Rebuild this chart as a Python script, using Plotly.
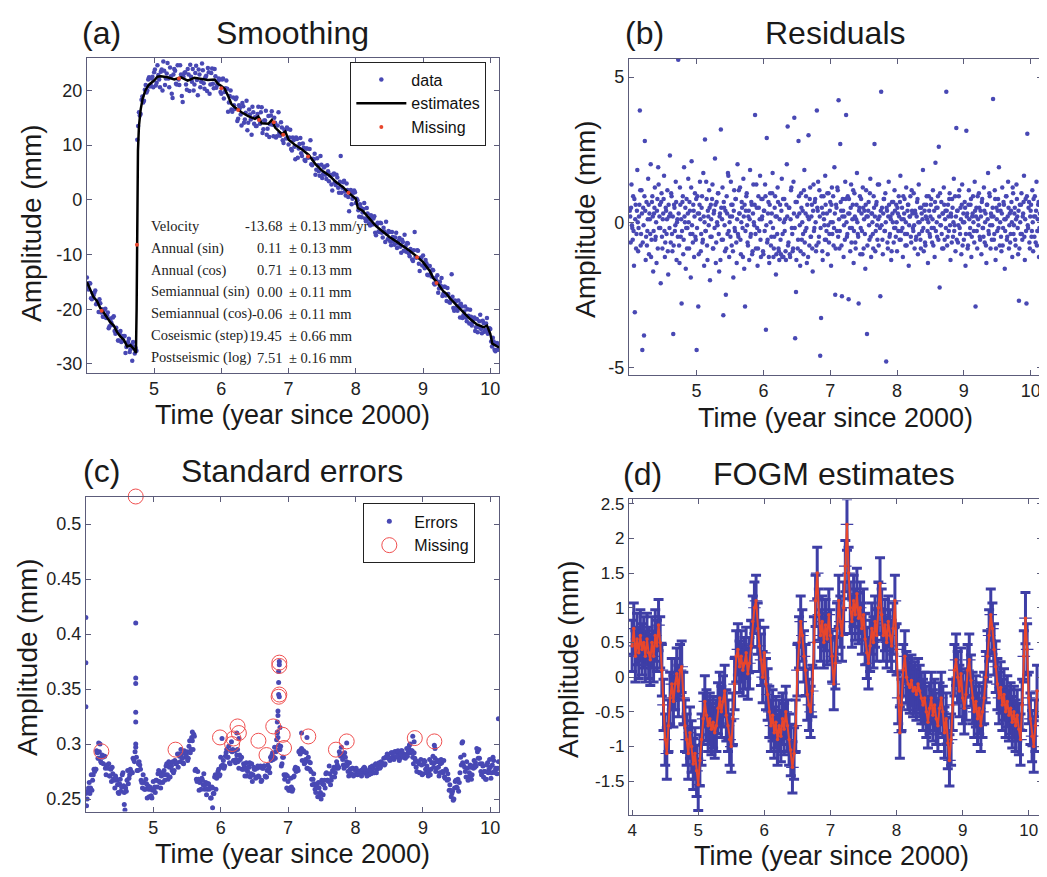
import plotly.graph_objects as go

# The page body keeps the browser's default 8 px margin, so the figure is
# drawn 8 px in from the window's top-left corner; sizes compensate for it.
WIN_W, WIN_H, BODY = 1047, 877, 8
W, H = WIN_W - BODY, WIN_H - BODY
FONT = "Liberation Sans, Arial, sans-serif"
SERIF = "Liberation Serif, Times New Roman, serif"
BLUE = "#4848b4"
BAR = "#3e3ea6"
RED = "#e8462c"
AXC = "#5c5c7a"

# ---------------- (a) Smoothing ----------------
obs_t0, obs_dt = 4.0, 0.025          # first set of epochs
obs_mm = [-14.2, -16.4, -15.3, -18.2, -17.5, -16.6, -18.9, -20.5, -18.9, -20.0,
          -21.4, -19.9, -21.1, -23.5, -21.7, -22.9, -21.3, -24.5, -24.1, -25.7,
          -24.0, -25.8, -25.0, -28.0, -26.5, -25.4, -27.3, -29.4, -26.8, -27.1,
          11.0, 16.0, 15.7, 18.9, 18.1, 21.0, 20.0, 22.4, 21.0, 22.5,
          23.3, 20.9, 24.6, 22.0, 23.4, 20.0, 23.6, 22.2, 25.0, 20.6,
          22.6, 18.6, 23.9, 21.2, 24.6, 21.0, 22.9, 17.9, 23.2, 21.1,
          23.9, 19.9, 22.5, 23.9, 21.1, 24.5, 19.1, 22.9, 21.6, 23.7,
          20.3, 22.7, 24.1, 19.4, 23.2, 21.2, 23.9, 20.5, 21.7, 22.0,
          19.4, 22.2, 19.7, 21.8, 16.1, 19.0, 16.5, 18.7, 16.6, 18.7,
          14.8, 16.8, 13.6, 17.1, 14.7, 18.1, 14.1, 15.6, 11.9, 16.0,
          15.1, 13.5, 17.0, 13.9, 16.9, 12.9, 14.5, 11.9, 15.3, 13.8,
          16.2, 11.6, 14.1, 11.6, 16.0, 11.7, 13.2, 10.4, 12.7, 13.2,
          10.1, 12.8, 9.0, 10.9, 7.4, 11.1, 9.4, 11.3, 8.0, 9.5,
          7.1, 9.4, 7.8, 10.9, 6.3, 7.4, 4.6, 7.6, 5.2, 8.0,
          4.0, 5.9, 4.6, 6.3, 3.4, 4.6, 1.7, 4.8, 2.7, 4.1,
          1.3, 8.0, 2.2, 3.5, 0.8, 1.8, -2.1, 1.8, 0.2, 1.7,
          -0.6, -0.1, -3.1, -1.4, -2.3, -0.6, -3.9, -2.5, -4.3, -2.8,
          -4.5, -3.0, -6.5, -4.2, -5.9, -4.3, -6.9, -5.8, -4.0, -7.2,
          -5.9, -8.3, -6.8, -8.2, -6.0, -8.0, -7.0, -9.7, -7.7, -6.4,
          -9.5, -8.0, -10.3, -9.3, -11.2, -5.9, -10.6, -9.3, -13.0, -10.6,
          -10.2, -12.5, -11.6, -13.8, -12.1, -14.0, -12.9, -15.5, -14.8, -17.0,
          -15.0, -14.3, -17.2, -15.9, -18.5, -17.2, -18.8, -13.6, -19.8, -18.4,
          -19.6, -18.4, -21.5, -19.5, -21.1, -19.5, -22.2, -21.2, -20.1, -23.0,
          -21.8, -24.0, -21.8, -23.3, -21.0, -24.4, -22.5, -23.8, -21.6, -24.0,
          -23.6, -26.8, -25.9, -27.7, -26.2, -27.3]
obs2_t0 = 4.0125                      # interleaved epochs
obs2_mm = [-15.9, -15.2, -18.0, -17.1, -17.0, -19.1, -18.6, -18.2, -20.6, -21.4,
           -20.1, -21.6, -20.6, -23.1, -22.4, -21.5, -24.0, -23.4, -25.7, -24.5,
           -26.0, -24.9, -24.9, -26.9, -26.0, -27.8, -26.5, -26.0, -28.1, -27.6,
           13.5, 15.4, 18.3, 17.8, 20.1, 19.6, 22.0, 20.7, 22.2, 20.6,
           23.8, 21.4, 22.8, 20.6, 23.8, 25.3, 21.0, 23.1, 22.2, 24.2,
           19.4, 22.9, 23.6, 21.1, 22.0, 24.6, 19.0, 22.5, 23.3, 20.1,
           22.9, 24.7, 21.6, 20.0, 23.2, 21.9, 23.8, 20.6, 24.9, 21.3,
           22.4, 19.9, 23.3, 21.1, 24.0, 20.4, 22.6, 21.0, 22.2, 19.7,
           22.0, 18.5, 20.4, 20.3, 17.8, 20.0, 16.1, 17.3, 18.4, 14.4,
           17.3, 15.6, 17.7, 14.1, 15.9, 12.7, 16.5, 14.7, 17.0, 13.9,
           13.5, 15.7, 14.7, 16.0, 12.2, 14.5, 16.3, 13.0, 11.5, 15.4,
           13.7, 15.0, 11.4, 13.6, 12.2, 14.2, 10.9, 12.8, 11.2, 13.0,
           11.4, 9.3, 11.4, 9.7, 11.4, 7.7, 10.2, 8.5, 10.3, 7.3,
           9.4, 7.7, 9.3, 6.5, 7.5, 8.4, 5.5, 6.3, 4.4, 6.4,
           4.7, 6.1, 3.8, 5.2, 4.5, 2.8, 4.6, 3.2, 4.6, 2.2,
           3.3, 1.3, 3.2, 1.5, 3.0, 0.5, 1.4, -0.8, 1.3, 1.4,
           0.2, -1.9, -0.8, -3.2, -1.7, -3.4, -1.5, -3.5, -4.7, -3.4,
           -3.4, -6.0, -4.5, -5.8, -4.2, -6.0, -5.1, -7.7, -6.2, -5.7,
           -7.6, -5.9, -7.6, -6.9, -8.8, -7.5, -8.6, -7.3, -9.3, -8.5,
           -7.9, -9.8, -9.0, -10.9, -9.2, -10.4, -9.2, -11.7, -10.6, -12.0,
           -12.1, -11.0, -13.7, -12.1, -13.5, -12.8, -15.3, -14.3, -13.8, -16.2,
           -15.7, -17.6, -15.9, -17.5, -16.1, -18.7, -18.0, -17.7, -20.3, -18.6,
           -20.3, -19.3, -19.0, -21.6, -20.4, -21.5, -20.0, -22.6, -21.4, -22.4,
           -21.5, -23.3, -24.2, -22.2, -23.6, -22.1, -24.1, -22.6, -24.5, -23.5,
           -25.9, -25.2, -27.4, -26.3, -27.4, -26.4]

est_t = [4.00, 4.05, 4.10, 4.15, 4.20, 4.25, 4.30, 4.35, 4.40, 4.45, 4.50, 4.55, 4.60, 4.65, 4.70,
         4.73, 4.74, 4.745, 4.75, 4.76, 4.775, 4.80, 4.83, 4.87, 4.92,
         5.00, 5.05, 5.10, 5.20, 5.30, 5.40, 5.50, 5.60, 5.70, 5.80, 5.90,
         5.95, 6.00, 6.05, 6.10, 6.15, 6.20,
         6.30, 6.40, 6.50, 6.55, 6.60, 6.70, 6.75, 6.80, 6.90, 6.95, 7.00,
         7.10, 7.20, 7.30, 7.40, 7.50, 7.60, 7.70, 7.80, 7.90, 8.00, 8.03,
         8.10, 8.20, 8.30, 8.40, 8.50, 8.60, 8.70, 8.80, 8.90, 9.00, 9.10,
         9.15, 9.20, 9.30, 9.35, 9.40, 9.50, 9.60, 9.70, 9.80, 9.90,
         9.95, 10.00, 10.03, 10.10, 10.13]
est_mm = [-15.0, -16.5, -17.8, -18.5, -19.8, -20.6, -21.5, -22.4, -23.0, -24.2, -25.0, -25.6, -26.8, -26.6, -27.3,
          -28.0, -20.0, -8.0, 2.0, 9.0, 13.5, 16.5, 18.5, 20.0, 21.0,
          21.8, 22.5, 22.6, 22.4, 22.0, 22.4, 21.8, 22.3, 22.1, 21.9, 22.0,
          21.2, 20.8, 20.3, 19.0, 17.5, 16.9,
          16.0, 15.3, 14.8, 15.2, 14.0, 13.9, 14.6, 13.2, 12.0, 12.5, 11.0,
          10.0, 9.2, 8.2, 6.5, 5.3, 4.5, 3.3, 2.4, 1.2, 0.2, -1.5,
          -2.0, -3.4, -4.8, -5.8, -6.8, -7.6, -8.4, -9.3, -10.3, -11.4, -13.0,
          -14.3, -15.0, -16.7, -17.2, -18.0, -19.3, -20.5, -21.8, -22.8, -23.3,
          -23.0, -24.5, -26.3, -26.8, -27.0]

miss_a_t = [4.22, 4.745, 5.37, 6.00, 6.25, 6.56, 6.78, 6.92, 7.29, 7.89, 8.91, 9.20]
miss_a_mm = [-20.3, -8.2, 22.2, 20.4, 16.4, 14.6, 14.2, 11.9, 7.9, 1.3, -10.5, -15.2]

param_names = ["Velocity", "Annual (sin)", "Annual (cos)", "Semiannual (sin)",
               "Semiannual (cos)", "Coseismic (step)", "Postseismic (log)"]
param_values = ["-13.68", "0.11", "0.71", "0.00", "-0.06", "19.45", "7.51"]
param_sigmas = ["0.13", "0.13", "0.13", "0.11", "0.11", "0.66", "0.16"]
param_units = ["mm/yr", "mm", "mm", "mm", "mm", "mm", "mm"]

# ---------------- (b) Residuals ----------------
res_t0, res_dt = 4.0, 0.0125
resid_mm = [
    0.4, -0.7, 1.3, -0.2, 0.9, -1.5, -3.1, 0.6, -0.4, 1.8, -1.0, 0.2, 3.85, -0.8, 1.1, -4.4, 0.5, -3.9, 2.8, -1.3,
    0.7, -0.3, 1.5, -1.1, 0.1, 2.0, -0.6, 0.9, -1.7, 0.3, 1.2, -0.5, -1.4, 0.8, 1.9, -0.2, 0.6, -2.1, 1.0, -0.9,
    0.3, 1.6, -1.2, 0.5, -0.4, 1.1, -1.8, 0.2, 2.3, -0.7, 0.9, -1.0, -3.85, 0.6, -0.3, 1.4, -1.3, 0.1, 5.6, -0.8,
    1.2, -0.5, -2.8, 0.7, -1.1, 1.9, 0.0, -1.6, 0.8, -0.2, 1.5, -0.9, 0.4, -1.9, 2.1, -0.4, 0.6, -1.2, 1.0, -0.6,
    -4.4, 0.9, -2.9, 0.3, 1.4, -1.0, 0.5, -0.7, 1.7, -1.5, 2.85, -0.3, 0.8, -1.3, 0.2, 1.1, -2.0, 0.6, -0.5, 1.3,
    -0.9, 0.4, 2.2, -1.4, 0.7, -0.1, 1.0, -1.7, 0.3, 3.2, -0.6, 1.2, -3.2, 0.5, -1.0, -2.5, 0.9, -0.4, 1.6, -1.2,
    0.2, 1.4, -0.8, 0.6, -1.9, 1.1, -0.3, 0.8, -1.4, 2.0, -0.5, 0.3, 1.2, -1.1, 0.7, -0.2, 1.5, -1.6, -2.9, 0.4,
    1.0, -0.7, 0.2, -1.3, 1.8, -0.4, 0.6, -1.0, 1.3, -0.1, 3.7, -0.9, 0.5, -1.5, 0.9, -0.3, 1.6, -1.2, 0.1, 0.8,
    -1.1, 0.4, 1.3, -3.7, 2.9, -0.6, 0.7, -1.4, 1.0, -0.8, 0.3, 1.7, -1.2, -0.5, 0.9, -1.8, 0.2, 1.2, -0.9, -1.3,
    0.6, -1.1, 1.5, -0.4, -1.2, 0.8, 0.1, -1.3, 2.0, 3.3, -0.7, 0.5, -1.2, 1.1, -0.2, -1.0, 1.4, 3.6, -4.0, -2.4,
    0.7, -0.9, 2.8, 0.3, -1.5, 1.0, -0.6, 0.4, -1.1, 1.8, -0.3, 0.9, -1.4, 0.2, 3.0, -0.8, 1.2, -0.5, 0.6, -1.7,
    1.3, -0.2, 0.8, -1.0, 3.85, 0.4, -0.7, 1.1, -4.6, -3.3, 0.5, -1.3, 0.9, -0.1, 1.6, -0.6, 0.3, -1.1, 1.0, -0.4,
    0.7, -1.5, 1.2, 0.0, -0.8, 1.9, -2.5, 0.6, -0.3, 1.1, 4.2, -0.9, 2.7, 0.4, -2.55, 0.8, -1.2, 0.2, 1.4, 3.7,
    -0.5, 0.9, -2.65, 0.3, -1.0, 1.3, -0.2, 0.6, -1.4, 1.0, -0.7, 0.1, 1.7, -0.4, -2.8, 0.5, -1.1, 0.8, -0.3, 1.2,
    -0.9, 0.4, -1.6, 1.1, -3.85, 0.2, 0.7, -0.6, 1.5, -1.2, 0.3, -0.4, 0.9, 2.7, -1.0, 0.6, -0.1, 1.3, -0.8, 0.2,
    -2.55, 4.5, 0.5, -1.1, 0.8, -0.3, 1.0, -4.8, 0.4, -0.9, 1.4, -0.5, 0.2, -1.3, 0.7, 0.0, -0.7, 1.1, -0.2, 0.6,
    -1.0, 0.3, 0.9, -0.6, 1.6, -0.3, 0.5, -1.2, 0.1, 0.8, -0.8, 1.2, -0.4, 0.6, -1.5, 0.2, 0.9, -0.7, 0.4, -0.2,
    1.0, -0.9, 0.3, -0.5, 0.7, -1.1, 1.3, 0.0, -0.6, 0.5, -0.3, 1.8, -1.0, 0.4, -0.8, 0.6, 0.1, -1.4, 0.9, -0.4,
    0.2, 0.8, -0.7, 1.1, -0.2, -1.2, 2.05, 0.5, -0.5, 0.9, 2.6, -2.25, -0.1, 0.7, -0.9, 0.3, 1.2, -0.6, 0.4, 4.5,
    -0.8, 0.6, -0.3, 1.0, -1.3, 0.2, 0.8, -0.5, 1.5, -0.1, -1.0, 3.25, 0.4, -0.7, 0.9, -0.2, 0.5, -1.1, 1.3, 0.0,
    -0.6, 0.7, -1.5, 3.15, 0.3, -0.8, 1.1, -0.4, 0.6, -1.2, 0.2, 0.9, -0.3, 1.4, -2.9, 0.5, -0.9, 0.1, 1.0, -0.5,
    0.4, -1.1, 0.8, -0.2, 1.2, -0.7, 0.3, -1.4, 0.6, 1.7, -0.4, 0.9, -0.9, 0.2, -0.1, 4.25, -0.6, 1.1, -1.3, 0.5,
    -0.3, 0.8, 1.9, -0.8, 0.4, -1.0, 1.2, -0.2, 0.6, -1.6, 0.1, 0.9, -0.5, 1.4, -0.9, 0.3, -0.4, 0.7, -1.2, 1.0,
    -0.1, 0.5, -0.8, 1.3, 0.2, -1.1, -2.7, 0.6, -0.4, 1.0, -0.6, 0.3, 1.6, -1.3, 0.8, -2.8, 3.05, -0.2, 0.7, -0.9,
    0.4, -0.5, 1.1, -1.0, 0.2, 0.9, -0.7, 1.4, -0.3, 0.6, -1.2, 0.3]
res2_t0 = 4.00625
resid2_mm = [
    0.2, 0.5, -0.1, -0.6, -0.3, 0.8, 0.1, -0.9, 0.4, 0.0, -0.2, 0.6, 1.1, -0.4, 0.3, -0.7, -0.1, 0.9, 0.4, -0.5,
    -0.8, 0.1, 0.6, 0.3, -0.4, -1.2, 0.7, 0.2, -0.3, 0.5, -0.6, 0.0, 0.4, -0.9, 1.3, 0.2, -0.2, 0.7, -0.5, 0.1,
    0.8, -0.3, -0.7, 0.4, 0.1, -1.0, 0.6, -0.2, 0.3, 1.0, -0.4, 0.2, -0.8, 0.5, -0.1, 0.7, 0.0, -0.5, 0.3, -1.4,
    0.6, 0.1, -0.3, 0.9, -0.6, 0.2, 0.5, -0.2, -0.9, 0.3, 0.0, 0.7, -0.4, 1.2, -0.1, -0.7, 0.4, 0.2, -0.5, 0.8,
    -0.2, 0.3, -1.1, 0.6, 0.1, -0.4, 0.9, -0.6, 0.2, 0.0, -0.3, 1.4, -0.8, 0.4, -0.1, 0.5, -0.5, 0.1, 0.8, -0.9,
    0.3, -0.2, 0.6, -0.7, 0.0, 1.0, -0.4, 0.2, -1.3, 0.5, 0.1, -0.6, 0.7, -0.1, 0.4, -0.9, 0.3, 1.7, -0.3, 0.0,
    -0.5, 0.6, 0.2, -1.0, 0.4, -0.2, 0.8, -0.7, 0.1, -0.4, 1.1, 0.3, -0.6, 0.0, 0.5, -1.2, 0.2, 0.6, -0.3, 0.9,
    -0.1, -0.8, 0.4, 0.1, -0.5, 0.7, -1.1, 0.3, 0.0, 0.6, -0.4, 1.3, -0.2, -0.9, 0.5, 0.1, -0.6, 0.8, 0.2, -1.0,
    0.4, -0.3, 0.9, -0.1, -0.7, 0.3, -1.2, 0.6, 0.0, -0.5, 1.0, -0.2, -0.9, 0.5, 0.2, -1.1, -0.4, 0.7, -1.0, 0.1,
    -0.6, 0.4, -1.2, 0.8, 0.0, -0.3, -1.0, 0.6, 0.2, -0.8, 0.5, -1.1, 0.1, 1.2, -0.4, -0.9, 0.3, -0.2, 0.7, -1.3,
    0.2, -0.6, 0.9, -0.1, -1.0, 0.5, 0.0, -0.4, 1.1, -0.7, 0.3, -0.2, 0.6, -1.2, 0.1, 0.8, -0.5, 0.2, -0.9, 0.4,
    -0.3, 0.7, 0.0, -0.8, 0.5, 1.4, -0.5, 0.2, -0.2, 0.9, -1.0, 0.3, 0.1, -0.6, 0.6, -0.3, 1.0, -0.1, -0.7, 0.4,
    0.0, 0.6, -0.4, 0.9, -0.2, 0.3, -0.9, 0.5, 1.2, -0.5, 0.1, -0.3, 0.7, -0.8, 0.2, 0.4, -0.1, -0.6, 0.8, 0.0,
    -0.4, 0.3, 0.8, -0.2, 0.5, -0.7, 0.1, 1.1, -0.3, 0.2, -0.9, 0.6, 0.0, -0.5, 0.4, 0.9, -0.2, 0.3, -1.1, 0.5,
    0.1, -0.4, 0.6, 0.2, -0.8, 0.4, -0.1, 1.0, -0.5, 0.3, 0.0, -0.9, 0.5, 0.2, -0.3, 0.7, -0.6, 0.1, 1.3, -0.2,
    0.4, -0.1, -0.6, 0.3, 0.8, -0.3, 0.0, 0.5, -0.7, 0.2, 0.6, -0.4, 0.1, -1.0, 0.3, 0.7, -0.2, 0.4, -0.5, 0.0,
    0.5, -0.3, 0.2, 0.7, -0.6, 0.1, -0.2, 0.9, 0.3, -0.4, 0.0, -0.8, 0.4, 0.6, -0.1, 0.2, -0.5, 1.1, 0.3, -0.3,
    -0.1, 0.4, -0.6, 0.2, 0.8, 0.0, -0.4, 0.5, -0.9, 0.3, 0.1, -0.2, 0.6, -0.7, 0.2, 0.9, -0.3, 0.0, 0.4, -0.5,
    0.6, -0.2, 0.1, -0.8, 0.4, 0.7, -0.3, 0.0, 0.5, -0.6, 0.2, 1.0, -0.1, -0.4, 0.3, -0.9, 0.6, 0.1, -0.2, 0.4,
    -0.5, 0.2, 0.8, -0.1, 0.3, -0.7, 0.5, 0.0, -0.3, 0.9, 0.2, -0.6, 0.4, -0.1, 1.1, -0.4, 0.1, 0.6, -0.8, 0.3,
    0.0, 0.5, -0.4, 0.2, -0.9, 0.6, 0.1, -0.2, 0.8, -0.5, 0.3, 0.0, -0.7, 0.4, 0.2, -0.3, 0.9, -0.1, 0.5, -0.6,
    0.2, 0.7, -0.2, -0.5, 0.4, 0.0, -0.8, 0.6, 0.1, -0.3, 1.0, -0.1, 0.3, -0.6, 0.5, 0.2, -0.4, 0.8, -0.9, 0.1,
    0.4, -0.2, 0.6, 0.0, -0.5, 0.3, -0.8, 0.7, 0.1, -0.3, 0.9, -0.6, 0.2, 0.5, -0.1, -0.7, 0.4, 0.0, 1.2, -0.4,
    0.3, -0.6, 0.1, 0.8, -0.2, 0.4, -0.9, 0.0, 0.6, -0.4, 0.2, 0.7, -0.5, 0.1, -0.3, 0.9, -0.1, 0.5, -0.7, 0.2,
    0.6, -0.3, 0.0, 0.8, -0.5, 0.2, 0.4, -0.8, 0.1, 0.7, -0.2, 0.3]

# ---------------- (c) Standard errors ----------------
err_t0, err_dt = 4.0, 0.02
err_mm = [0.255, 0.250, 0.260, 0.255, 0.272, 0.267, 0.277, 0.277, 0.294, 0.287,
          0.293, 0.284, 0.290, 0.282, 0.289, 0.272, 0.281, 0.282, 0.271, 0.266,
          0.273, 0.267, 0.271, 0.267, 0.256, 0.264, 0.257, 0.272, 0.262, 0.261,
          0.257, 0.276, 0.269, 0.277, 0.274, 0.287, 0.284, 0.297, 0.276, 0.282,
          0.281, 0.267, 0.260, 0.265, 0.259, 0.264, 0.262, 0.252, 0.259, 0.251,
          0.266, 0.261, 0.267, 0.261, 0.276, 0.265, 0.271, 0.265, 0.276, 0.272,
          0.282, 0.268, 0.279, 0.283, 0.276, 0.274, 0.285, 0.283, 0.291, 0.291,
          0.284, 0.291, 0.283, 0.294, 0.288, 0.293, 0.287, 0.303, 0.295, 0.303,
          0.309, 0.276, 0.268, 0.275, 0.258, 0.267, 0.269, 0.263, 0.259, 0.265,
          0.259, 0.264, 0.261, 0.251, 0.260, 0.255, 0.272, 0.269, 0.275, 0.271,
          0.288, 0.279, 0.285, 0.280, 0.292, 0.288, 0.298, 0.282, 0.294, 0.295,
          0.285, 0.283, 0.290, 0.284, 0.290, 0.288, 0.277, 0.282, 0.271, 0.283,
          0.275, 0.279, 0.270, 0.282, 0.272, 0.277, 0.269, 0.278, 0.271, 0.279,
          0.266, 0.278, 0.280, 0.271, 0.270, 0.281, 0.279, 0.288, 0.290, 0.286,
          0.297, 0.293, 0.311, 0.299, 0.295, 0.280, 0.288, 0.272, 0.271, 0.260,
          0.266, 0.258, 0.269, 0.257, 0.270, 0.277, 0.275, 0.278, 0.293, 0.291,
          0.296, 0.293, 0.282, 0.286, 0.278, 0.288, 0.277, 0.275, 0.263, 0.273,
          0.259, 0.261, 0.252, 0.260, 0.256, 0.267, 0.254, 0.267, 0.273, 0.267,
          0.266, 0.273, 0.267, 0.276, 0.279, 0.274, 0.284, 0.278, 0.293, 0.289,
          0.291, 0.281, 0.292, 0.280, 0.281, 0.271, 0.277, 0.273, 0.278, 0.272,
          0.276, 0.276, 0.273, 0.273, 0.276, 0.274, 0.278, 0.278, 0.273, 0.275,
          0.272, 0.279, 0.276, 0.278, 0.274, 0.282, 0.277, 0.281, 0.278, 0.284,
          0.282, 0.287, 0.282, 0.288, 0.290, 0.287, 0.287, 0.292, 0.288, 0.293,
          0.293, 0.288, 0.290, 0.287, 0.294, 0.289, 0.291, 0.287, 0.296, 0.292,
          0.299, 0.292, 0.294, 0.282, 0.287, 0.279, 0.284, 0.282, 0.274, 0.281,
          0.273, 0.285, 0.277, 0.280, 0.271, 0.286, 0.277, 0.283, 0.279, 0.287,
          0.278, 0.285, 0.271, 0.282, 0.283, 0.274, 0.270, 0.277, 0.267, 0.268,
          0.263, 0.252, 0.257, 0.250, 0.266, 0.261, 0.268, 0.265, 0.288, 0.301,
          0.281, 0.279, 0.270, 0.278, 0.270, 0.281, 0.268, 0.280, 0.285, 0.283,
          0.296, 0.287, 0.287, 0.275, 0.282, 0.270, 0.275, 0.268, 0.283, 0.277,
          0.279, 0.274, 0.288, 0.275, 0.278, 0.273, 0.284]
err2_t0 = 4.01
err2_mm = [0.244, 0.257, 0.265, 0.260, 0.258, 0.272, 0.275, 0.277, 0.292, 0.287,
           0.300, 0.283, 0.288, 0.289, 0.278, 0.280, 0.278, 0.271, 0.277, 0.279,
           0.268, 0.260, 0.269, 0.263, 0.255, 0.268, 0.261, 0.274, 0.256, 0.260,
           0.267, 0.264, 0.272, 0.275, 0.274, 0.286, 0.293, 0.288, 0.276, 0.284,
           0.277, 0.265, 0.272, 0.259, 0.268, 0.251, 0.259, 0.261, 0.253, 0.258,
           0.259, 0.256, 0.267, 0.273, 0.266, 0.260, 0.274, 0.272, 0.267, 0.280,
           0.272, 0.284, 0.270, 0.280, 0.284, 0.276, 0.282, 0.283, 0.279, 0.289,
           0.295, 0.287, 0.282, 0.292, 0.290, 0.285, 0.298, 0.292, 0.306, 0.295,
           0.307, 0.277, 0.266, 0.268, 0.265, 0.259, 0.267, 0.273, 0.263, 0.254,
           0.264, 0.259, 0.251, 0.261, 0.255, 0.270, 0.259, 0.272, 0.277, 0.272,
           0.280, 0.281, 0.278, 0.289, 0.295, 0.288, 0.283, 0.294, 0.293, 0.285,
           0.294, 0.286, 0.295, 0.278, 0.286, 0.288, 0.277, 0.280, 0.277, 0.271,
           0.279, 0.283, 0.273, 0.266, 0.279, 0.277, 0.270, 0.280, 0.270, 0.280,
           0.267, 0.278, 0.280, 0.270, 0.276, 0.277, 0.274, 0.285, 0.292, 0.288,
           0.287, 0.304, 0.306, 0.295, 0.298, 0.282, 0.288, 0.268, 0.272, 0.271,
           0.258, 0.260, 0.261, 0.259, 0.271, 0.279, 0.276, 0.276, 0.294, 0.293,
           0.285, 0.294, 0.283, 0.292, 0.278, 0.284, 0.283, 0.268, 0.268, 0.264,
           0.256, 0.263, 0.265, 0.254, 0.250, 0.264, 0.263, 0.260, 0.274, 0.267,
           0.280, 0.263, 0.270, 0.275, 0.270, 0.278, 0.281, 0.279, 0.290, 0.297,
           0.286, 0.278, 0.288, 0.284, 0.275, 0.283, 0.273, 0.278, 0.271, 0.277,
           0.278, 0.272, 0.275, 0.275, 0.271, 0.277, 0.279, 0.275, 0.271, 0.276,
           0.276, 0.273, 0.280, 0.274, 0.281, 0.274, 0.280, 0.283, 0.279, 0.282,
           0.282, 0.281, 0.288, 0.291, 0.287, 0.285, 0.292, 0.291, 0.286, 0.293,
           0.289, 0.294, 0.285, 0.291, 0.294, 0.288, 0.289, 0.289, 0.289, 0.296,
           0.300, 0.294, 0.288, 0.292, 0.285, 0.275, 0.284, 0.274, 0.286, 0.272,
           0.282, 0.284, 0.274, 0.277, 0.275, 0.272, 0.283, 0.289, 0.283, 0.275,
           0.284, 0.279, 0.274, 0.286, 0.275, 0.285, 0.269, 0.276, 0.273, 0.258,
           0.258, 0.255, 0.249, 0.260, 0.267, 0.260, 0.257, 0.274, 0.281, 0.283,
           0.290, 0.275, 0.284, 0.267, 0.274, 0.279, 0.272, 0.278, 0.279, 0.280,
           0.293, 0.295, 0.282, 0.272, 0.280, 0.275, 0.268, 0.281, 0.274, 0.286,
           0.269, 0.281, 0.285, 0.274, 0.277, 0.278]
err_extra_t = [4.0, 4.0, 4.0, 4.74, 4.74, 4.74, 4.74, 4.74, 4.74, 4.57, 4.58, 5.88, 5.58,
               6.02, 6.16, 6.24, 6.27, 6.84, 6.85, 6.85, 6.86, 6.86, 6.86, 6.87, 6.87, 6.87,
               6.88, 6.84, 7.20, 7.28, 7.87, 8.85, 8.87, 9.17, 9.18, 9.59, 10.12, 4.19]
err_extra_mm = [0.415, 0.374, 0.334, 0.410, 0.360, 0.355, 0.329, 0.320, 0.300, 0.245, 0.240, 0.242, 0.311,
                0.305, 0.302, 0.310, 0.305, 0.320, 0.326, 0.330, 0.345, 0.356, 0.366, 0.372, 0.375, 0.343,
                0.315, 0.310, 0.310, 0.306, 0.301, 0.307, 0.302, 0.299, 0.296, 0.302, 0.323, 0.301]
miss_c_t = [4.23, 4.74, 5.33, 5.99, 6.17, 6.19, 6.25, 6.27, 6.56, 6.68, 6.78,
            6.87, 6.87, 6.87, 6.86, 6.92, 6.94, 7.30, 7.71, 7.87, 8.88, 9.17]
miss_c_mm = [0.2934, 0.525, 0.2949, 0.306, 0.300, 0.305, 0.316, 0.310, 0.303, 0.290, 0.316,
             0.374, 0.371, 0.345, 0.343, 0.3084, 0.2964, 0.3069, 0.2949, 0.3024, 0.3054, 0.3024]

# ---------------- (d) FOGM estimates ----------------
fogm_t0, fogm_dt = 4.0, 0.025
fogm_sigma = 0.37
fogm_mm = [0.45, 0.7, 0.3, 0.55, 0.35, 0.6, 0.4, 0.5, 0.3, 0.55,
           0.35, 0.25, 0.5, 0.3, 0.6, 0.45, 0.75, 0.5, 0.1, -0.4,
           -0.9, -1.1, -0.7, -0.3, -0.1, -0.35, -0.1, 0.05, -0.2, 0.1,
           0.15, -0.3, -0.7, -0.9, -1.1, -0.8, -1.0, -1.25, -1.1, -1.35,
           -1.55, -1.2, -0.9, -0.6, -0.35, -0.55, -0.7, -0.6, -0.75, -0.65,
           -0.8, -0.7, -0.45, -0.3, -0.5, -0.35, -0.2, -0.55, -0.7, -0.9,
           -1.0, -0.6, -0.1, 0.3, 0.4, 0.15, 0.3, 0.1, 0.2, 0.35,
           0.05, 0.2, 0.45, 0.8, 1.0, 1.1, 0.7, 0.45, 0.25, 0.0,
           0.35, -0.1, -0.25, -0.5, -0.7, -0.55, -0.8, -0.65, -0.9, -0.7,
           -0.85, -0.6, -0.75, -0.5, -0.7, -0.9, -1.05, -1.3, -1.1, -0.7,
           0.1, 0.5, 0.8, 0.6, 0.3, 0.1, -0.25, -0.4, -0.5, -0.2,
           0.5, 1.1, 1.5, 0.9, 0.6, 0.8, 0.5, 0.75, 0.55, 0.9,
           0.6, 0.3, -0.1, 0.2, 0.7, 1.1, 0.8, 0.6, 1.0, 1.6,
           2.2, 1.5, 1.0, 0.8, 1.1, 0.9, 1.2, 0.85, 1.0, 0.7,
           0.9, 0.55, 0.35, 0.2, 0.45, 0.7, 0.5, 0.8, 0.6, 1.0,
           1.35, 0.9, 0.6, 0.75, 0.5, 0.8, 0.6, 0.45, 0.7, 1.1,
           0.4, -0.3, -0.8, -0.4, 0.1, 0.3, 0.0, -0.1, -0.15, -0.05,
           -0.2, -0.15, -0.25, -0.1, -0.2, -0.3, -0.4, -0.3, -0.5, -0.65,
           -0.45, -0.3, -0.55, -0.4, -0.6, -0.7, -0.45, -0.3, -0.5, -0.8,
           -0.6, -0.95, -1.2, -0.9, -0.4, 0.1, 0.25, 0.0, -0.2, 0.05,
           -0.3, -0.45, -0.25, 0.1, 0.25, -0.05, -0.3, -0.5, -0.35, -0.6,
           -0.45, -0.7, -0.5, -0.3, 0.0, 0.3, 0.6, 0.9, 0.7, 0.4,
           0.15, -0.1, -0.3, -0.15, -0.4, -0.25, -0.5, -0.35, -0.55, -0.45,
           -0.65, -0.5, -0.7, -0.55, -0.75, -0.9, -0.4, 0.3, 0.85, 0.4,
           -0.3, -0.6, -0.85, -1.0, -0.7, -0.2]


def epochs(t0, dt, n):
    return [round(t0 + k * dt, 5) for k in range(n)]


obs_t = epochs(obs_t0, obs_dt, len(obs_mm)) + epochs(obs2_t0, obs_dt, len(obs2_mm))
obs_all = obs_mm + obs2_mm
res_t = epochs(res_t0, res_dt, len(resid_mm)) + epochs(res2_t0, res_dt, len(resid2_mm))
res_all = resid_mm + resid2_mm
err_t = epochs(err_t0, err_dt, len(err_mm)) + epochs(err2_t0, err_dt, len(err2_mm)) + err_extra_t
err_all = err_mm + err2_mm + err_extra_mm
fogm_t = epochs(fogm_t0, fogm_dt, len(fogm_mm))


def px(x):
    """window pixel x -> paper fraction"""
    return (x - BODY) / W


def py(y):
    """window pixel y -> paper fraction"""
    return 1 - (y - BODY) / H


fig = go.Figure()

# (a)
fig.add_trace(go.Scatter(x=obs_t, y=obs_all, mode="markers", name="data",
                         marker=dict(size=4.5, color=BLUE), xaxis="x", yaxis="y", legend="legend"))
fig.add_trace(go.Scatter(x=est_t, y=est_mm, mode="lines", name="estimates",
                         line=dict(color="black", width=2.5), xaxis="x", yaxis="y", legend="legend"))
fig.add_trace(go.Scatter(x=miss_a_t, y=miss_a_mm, mode="markers", name="Missing",
                         marker=dict(size=4, color=RED), xaxis="x", yaxis="y", legend="legend"))
# (b)
fig.add_trace(go.Scatter(x=res_t, y=res_all, mode="markers", showlegend=False,
                         marker=dict(size=4.5, color=BLUE), xaxis="x2", yaxis="y2"))
# (c)
fig.add_trace(go.Scatter(x=err_t, y=err_all, mode="markers", name="Errors",
                         marker=dict(size=5, color=BLUE), xaxis="x3", yaxis="y3", legend="legend2"))
fig.add_trace(go.Scatter(x=miss_c_t, y=miss_c_mm, mode="markers", name="Missing", cliponaxis=False,
                         marker=dict(size=15, symbol="circle-open", color="#f05050", line=dict(width=1)),
                         xaxis="x3", yaxis="y3", legend="legend2"))
# (d)
fig.add_trace(go.Scatter(x=fogm_t, y=fogm_mm, mode="markers", showlegend=False,
                         marker=dict(size=9, symbol="cross-thin", color=BAR, line=dict(width=1.2, color=BAR)),
                         error_y=dict(type="constant", value=fogm_sigma, color=BAR, thickness=3, width=5),
                         xaxis="x4", yaxis="y4"))
fig.add_trace(go.Scatter(x=fogm_t, y=fogm_mm, mode="lines+markers", showlegend=False,
                         line=dict(color=RED, width=2), marker=dict(size=3.5, color=RED),
                         xaxis="x4", yaxis="y4"))

ax = dict(showline=True, linecolor=AXC, linewidth=1, mirror="allticks", ticks="inside",
          ticklen=5, tickcolor=AXC, showgrid=False, zeroline=False,
          tickfont=dict(family=FONT, size=18, color="#222"))
ax_d = {**ax, "tickfont": dict(family=FONT, size=17, color="#222")}

years = [5, 6, 7, 8, 9, 10]
fig.update_layout(
    width=W, height=H, margin=dict(l=0, r=0, t=0, b=0),
    paper_bgcolor="white", plot_bgcolor="white",
    xaxis=dict(domain=[px(86), px(499)], anchor="y", range=[4.0, 10.13], tickvals=years, **ax),
    yaxis=dict(domain=[py(371), py(53)], anchor="x", range=[-31.6, 26],
               tickvals=[-30, -20, -10, 0, 10, 20], ticktext=["-30", "-20", "-10", "0", "10", "20"], **ax),
    xaxis2=dict(domain=[px(629), px(1043)], anchor="y2", range=[3.985, 10.17], tickvals=years, **ax),
    yaxis2=dict(domain=[py(373), py(54)], anchor="x2", range=[-5.25, 5.64],
                tickvals=[-5, 0, 5], ticktext=["-5", "0", "5"], **ax),
    xaxis3=dict(domain=[px(85), px(499)], anchor="y3", range=[4.0, 10.13], tickvals=years, **ax),
    yaxis3=dict(domain=[py(814), py(496)], anchor="x3", range=[0.2386, 0.525],
                tickvals=[0.25, 0.3, 0.35, 0.4, 0.45, 0.5],
                ticktext=["0.25", "0.3", "0.35", "0.4", "0.45", "0.5"], **ax),
    xaxis4=dict(domain=[px(629), px(1043)], anchor="y4", range=[3.95, 10.2],
                tickvals=[4, 5, 6, 7, 8, 9, 10], **ax_d),
    yaxis4=dict(domain=[py(817), py(499)], anchor="x4", range=[-1.98, 2.56],
                tickvals=[-1.5, -1, -0.5, 0, 0.5, 1, 1.5, 2, 2.5],
                ticktext=["-1.5", "-1", "-0.5", "0", "0.5", "1", "1.5", "2", "2.5"], **ax_d),
    legend=dict(x=px(350), y=py(57), xanchor="left", yanchor="top", bgcolor="white",
                bordercolor="#222", borderwidth=1, font=dict(family=FONT, size=16, color="#111"),
                itemwidth=50, tracegroupgap=0),
    legend2=dict(x=px(363), y=py(503), xanchor="left", yanchor="top", bgcolor="white",
                 bordercolor="#222", borderwidth=1, font=dict(family=FONT, size=16, color="#111"),
                 itemwidth=40, tracegroupgap=0),
)

ann = []


def text(x, y, s, size, family=FONT, xanchor="center", color="#1a1a1a", angle=0):
    ann.append(dict(x=px(x), y=py(y), xref="paper", yref="paper", text=s, showarrow=False,
                    xanchor=xanchor, yanchor="middle", textangle=angle,
                    font=dict(family=family, size=size, color=color)))


# panel titles
text(101, 28, "(a)", 32)
text(292, 28, "Smoothing", 32)
text(645, 28, "(b)", 32)
text(836, 28, "Residuals", 32)
text(101, 470, "(c)", 32)
text(292, 470, "Standard errors", 32)
text(643, 473, "(d)", 32)
text(835, 473, "FOGM estimates", 32)
# axis titles
for cx, cy in [(292, 414), (836, 417), (292, 857), (832, 859)]:
    text(cx, cy, "Time (year since 2000)", 27)
for cx, cy in [(30, 220), (585, 216), (26, 658), (569, 660)]:
    text(cx, cy, "Amplitude (mm)", 28, angle=-90)

# estimated parameters (panel a)
row_y0, row_dy = 223.3, 22.07
for k, (nm, v, s, u) in enumerate(zip(param_names, param_values, param_sigmas, param_units)):
    yy = row_y0 + k * row_dy
    text(148, yy, nm, 14.5, family=SERIF, xanchor="left", color="#222")
    text(284, yy, v, 14.5, family=SERIF, xanchor="right", color="#222")
    text(287, yy, "\u00b1 " + s + " " + u, 14.5, family=SERIF, xanchor="left", color="#222")

fig.update_layout(annotations=ann)
fig.write_html("out.html")
